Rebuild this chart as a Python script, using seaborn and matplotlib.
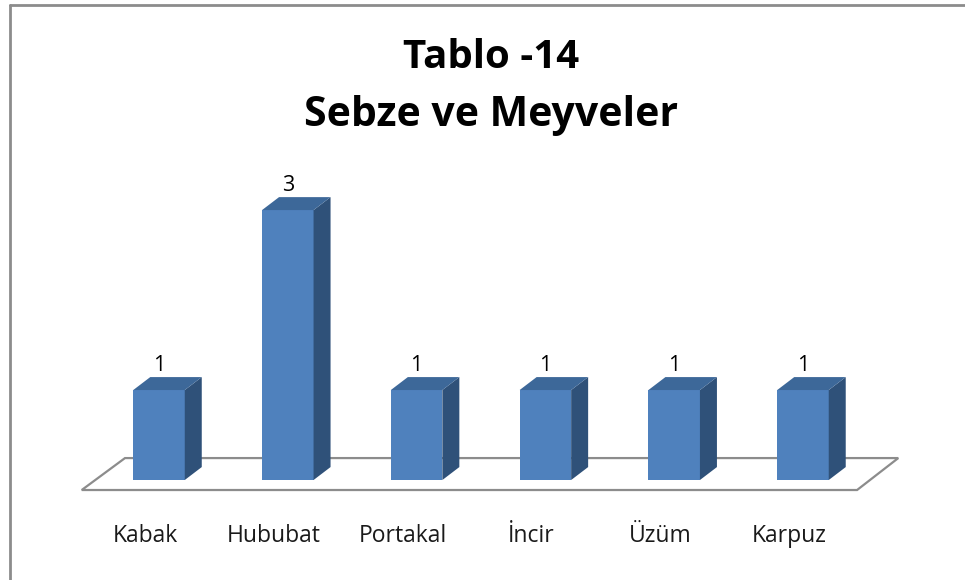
import matplotlib
matplotlib.use("Agg")
import matplotlib.pyplot as plt
import matplotlib.transforms as mtransforms
import seaborn as sns
import pandas as pd
from matplotlib.patches import Polygon, Rectangle
from matplotlib.lines import Line2D

categories = ["Kabak", "Hububat", "Portakal", "İncir", "Üzüm", "Karpuz"]
values = [1, 3, 1, 1, 1, 1]
title_lines = ["Tablo -14", "Sebze ve Meyveler"]

df = pd.DataFrame({"cat": categories, "val": values})

sns.set_theme(style="white")
plt.rcParams["font.family"] = ["Open Sans", "DejaVu Sans"]

W, H = 965, 580
fig = plt.figure(figsize=(W / 100, H / 100), dpi=100)
fig.patch.set_facecolor("white")

# axes placement in pixels
axl, axr, axt, axb = 70, 910, 130, 500
ax = fig.add_axes([axl / W, 1 - axb / H, (axr - axl) / W, (axb - axt) / H])

front = "#4F81BD"
top_c = "#3D6899"
side_c = "#2F5179"

sns.barplot(data=df, x="cat", y="val", color=front, width=0.40,
            saturation=1, ax=ax, zorder=3, edgecolor="none")
bars = [p for p in ax.patches if isinstance(p, Rectangle)]

n = len(categories)
ax.set_xlim(-0.691, 5.831)
ax.set_ylim(-0.222, 3.89)

# depth offsets in data units
dx, dy = 0.132, 0.144

# floor
fl = [(-0.60, -0.111), (n - 1 + 0.42, -0.111), (n - 1 + 0.74, 0.244), (-0.264, 0.244)]
ax.add_patch(Polygon(fl, closed=True, facecolor="white", edgecolor="#8C8C8C",
                     linewidth=1.6, zorder=1))

for p in bars:
    x0, w, h = p.get_x(), p.get_width(), p.get_height()
    y0 = p.get_y()
    x1 = x0 + w
    y1 = y0 + h
    ax.add_patch(Polygon([(x1, y0), (x1 + dx, y0 + dy), (x1 + dx, y1 + dy), (x1, y1)],
                         closed=True, facecolor=side_c, edgecolor="none", zorder=3))
    ax.add_patch(Polygon([(x0, y1), (x1, y1), (x1 + dx, y1 + dy), (x0 + dx, y1 + dy)],
                         closed=True, facecolor=top_c, edgecolor="none", zorder=3))

for i, v in enumerate(values):
    ax.annotate(str(v), (i, v + dy), xytext=(0, 1), textcoords="offset points",
                ha="center", va="bottom", fontsize=15.5, color="black")

ax.set_xlabel("")
ax.set_ylabel("")
ax.set_yticks([])
ax.set_xticks(range(n))
ax.set_xticklabels(categories, fontsize=16.5, color="#1a1a1a")
ax.tick_params(axis="x", length=0, pad=17)
shift = mtransforms.ScaledTranslation(-14 / 100, 0, fig.dpi_scale_trans)
for lab in ax.get_xticklabels():
    lab.set_transform(lab.get_transform() + shift)
for s in ax.spines.values():
    s.set_visible(False)
ax.patch.set_alpha(0)

tx = 491 / W
fig.text(tx, 1 - 58 / H, title_lines[0], ha="center", va="center",
         fontsize=29, fontweight="bold", color="black")
fig.text(tx, 1 - 115 / H, title_lines[1], ha="center", va="center",
         fontsize=29.5, fontweight="bold", color="black")

# outer frame (top and left edges visible)
fig.add_artist(Line2D([10 / W, 1], [1 - 5 / H, 1 - 5 / H], color="#8C8C8C",
                      linewidth=2, transform=fig.transFigure))
fig.add_artist(Line2D([10 / W, 10 / W], [1 - 5 / H, 0], color="#8C8C8C",
                      linewidth=2, transform=fig.transFigure))

fig.savefig("out.png", dpi=100, facecolor="white")
